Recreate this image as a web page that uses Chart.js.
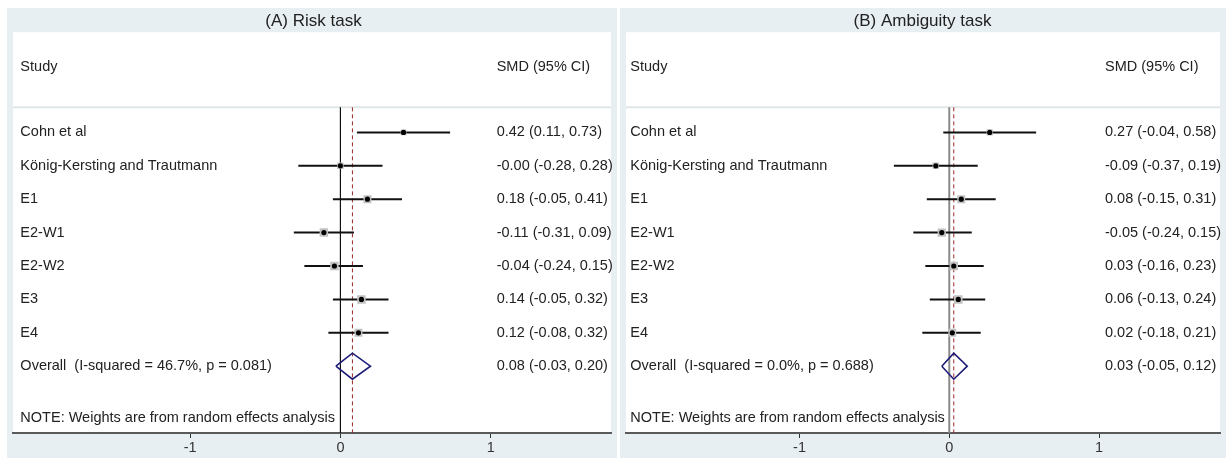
<!DOCTYPE html>
<html>
<head>
<meta charset="utf-8">
<title>Forest plots</title>
<script src="https://cdn.jsdelivr.net/npm/chart.js@4.4.1/dist/chart.umd.min.js"></script>
<style>
  body { margin: 0; background: #ffffff; width: 1226px; height: 458px; overflow: hidden; }
  .panel { position: absolute; top: 8px; height: 450px; background: #e8eff2; }
  #panelA { left: 7px; width: 610px; }
  #panelB { left: 620px; width: 606px; }
</style>
</head>
<body>
<div class="panel" id="panelA"><canvas id="chartA" width="610" height="450"></canvas></div>
<div class="panel" id="panelB"><canvas id="chartB" width="606" height="450"></canvas></div>
<script>
const studies = ["Cohn et al", "König-Kersting and Trautmann", "E1", "E2-W1", "E2-W2", "E3", "E4"];

// (A) risk task
const riskSmd = [0.42, -0.00, 0.18, -0.11, -0.04, 0.14, 0.12];
const riskLower = [0.11, -0.28, -0.05, -0.31, -0.24, -0.05, -0.08];
const riskUpper = [0.73, 0.28, 0.41, 0.09, 0.15, 0.32, 0.32];
const riskWeight = [8, 10, 15, 17, 17, 17, 15];
const riskOverall = [0.08, -0.03, 0.20];
const riskHet = "I-squared = 46.7%, p = 0.081";

// (B) ambiguity task
const ambSmd = [0.27, -0.09, 0.08, -0.05, 0.03, 0.06, 0.02];
const ambLower = [-0.04, -0.37, -0.15, -0.24, -0.16, -0.13, -0.18];
const ambUpper = [0.58, 0.19, 0.31, 0.15, 0.23, 0.24, 0.21];
const ambWeight = [9, 10, 15, 16, 17, 17, 15];
const ambOverall = [0.03, -0.05, 0.12];
const ambHet = "I-squared = 0.0%, p = 0.688";

const xTicks = [-1, 0, 1];

const FONT = 'Arial, "Liberation Sans", sans-serif';
const ROW_OVERALL = studies.length;

function fmt(v) {
  return (Object.is(v, -0) ? "-" : "") + v.toFixed(2);
}
function ciText(est, lo, hi) {
  return fmt(est) + " (" + fmt(lo) + ", " + fmt(hi) + ")";
}

// white plotting region + the text columns
const forestText = {
  id: "forestText",
  beforeDraw(chart) {
    const a = chart.chartArea;
    const ctx = chart.ctx;
    ctx.save();
    ctx.fillStyle = "#ffffff";
    ctx.fillRect(a.left, a.top, a.right - a.left, a.bottom - a.top);
    ctx.restore();
  },
  afterDraw(chart, args, opts) {
    const ctx = chart.ctx;
    const x = chart.scales.x, y = chart.scales.y;
    const p = opts.panel;
    if (!p) return;
    const xl = x.getPixelForValue(-2.13);
    const xr = x.getPixelForValue(1.04);
    ctx.save();
    ctx.font = "14.5px " + FONT;
    ctx.fillStyle = "#222222";
    ctx.textBaseline = "middle";
    ctx.textAlign = "left";
    ctx.fillText("Study", xl, y.getPixelForValue(-1.95));
    ctx.fillText("SMD (95% CI)", xr, y.getPixelForValue(-1.95));
    studies.forEach((s, i) => {
      ctx.fillText(s, xl, y.getPixelForValue(i));
      ctx.fillText(ciText(p.smd[i], p.lower[i], p.upper[i]), xr, y.getPixelForValue(i));
    });
    ctx.fillText("Overall  (" + p.het + ")", xl, y.getPixelForValue(ROW_OVERALL));
    ctx.fillText(ciText(p.overall[0], p.overall[1], p.overall[2]), xr, y.getPixelForValue(ROW_OVERALL));
    ctx.fillText("NOTE: Weights are from random effects analysis", xl, y.getPixelForValue(8.55));
    ctx.restore();
  }
};

function makeForest(canvasId, title, p, xMin, xMax, padL, padR, zeroColor, zeroWidth) {
  const dots = p.smd.map((v, i) => ({ x: v, y: i }));
  const boxSizes = p.weight.map(w => 1.45 * Math.sqrt(w));

  const ciSets = p.smd.map((v, i) => ({
    data: [{ x: p.lower[i], y: i }, { x: p.upper[i], y: i }],
    showLine: true,
    borderColor: "#111111",
    borderWidth: 2,
    pointRadius: 0
  }));

  const o = p.overall;
  const diamond = [
    { x: o[1], y: ROW_OVERALL },
    { x: o[0], y: ROW_OVERALL - 0.39 },
    { x: o[2], y: ROW_OVERALL },
    { x: o[0], y: ROW_OVERALL + 0.39 },
    { x: o[1], y: ROW_OVERALL }
  ];

  new Chart(document.getElementById(canvasId), {
    type: "scatter",
    data: {
      datasets: [
        {
          data: dots,
          pointStyle: "circle",
          pointRadius: 2.6,
          backgroundColor: "#000000",
          borderWidth: 0
        },
        {
          data: dots,
          pointStyle: "rect",
          pointRadius: boxSizes,
          backgroundColor: "#c2c2c2",
          borderWidth: 0
        },
        ...ciSets,
        {
          data: diamond,
          showLine: true,
          borderColor: "#1c1c78",
          borderWidth: 1.6,
          pointRadius: 0,
          tension: 0
        },
        {
          data: [{ x: o[0], y: -0.75 }, { x: o[0], y: 9 }],
          showLine: true,
          borderColor: "#9a2a2a",
          borderWidth: 1,
          borderDash: [4, 3],
          pointRadius: 0
        },
        {
          data: [{ x: 0, y: -0.75 }, { x: 0, y: 9 }],
          showLine: true,
          borderColor: zeroColor,
          borderWidth: zeroWidth,
          pointRadius: 0
        },
        {
          data: [{ x: xMin, y: -0.75 }, { x: xMax, y: -0.75 }],
          showLine: true,
          borderColor: "#e1e6e8",
          borderWidth: 2,
          pointRadius: 0
        }
      ]
    },
    options: {
      responsive: false,
      animation: false,
      layout: { padding: { left: padL, right: padR, top: 0, bottom: 0 } },
      plugins: {
        legend: { display: false },
        tooltip: { enabled: false },
        title: {
          display: true,
          text: title,
          color: "#222222",
          font: { family: FONT, size: 17, weight: "normal", lineHeight: 1.1 },
          padding: { top: 4, bottom: 1.5 }
        },
        forestText: { panel: p }
      },
      scales: {
        x: {
          type: "linear",
          min: xMin,
          max: xMax,
          afterBuildTicks: (s) => { s.ticks = xTicks.map(v => ({ value: v })); },
          afterFit: (s) => { s.height = 25; },
          border: { display: true, color: "#5a5a5a", width: 2 },
          grid: { drawOnChartArea: false, drawTicks: true, tickLength: 5, tickColor: "#333333", tickWidth: 1 },
          ticks: { color: "#333333", font: { family: FONT, size: 14.5 }, padding: 1 }
        },
        y: {
          type: "linear",
          min: -3,
          max: 9,
          reverse: true,
          display: false
        }
      }
    },
    plugins: [forestText]
  });
}

makeForest("chartA", "(A) Risk task",
  { smd: riskSmd, lower: riskLower, upper: riskUpper, weight: riskWeight, overall: riskOverall, het: riskHet },
  -2.179, 1.801, 6, 3, "#111111", 1.2);

makeForest("chartB", "(B) Ambiguity task",
  { smd: ambSmd, lower: ambLower, upper: ambUpper, weight: ambWeight, overall: ambOverall, het: ambHet },
  -2.159, 1.808, 3, 4, "#8a8a8a", 2);
</script>
</body>
</html>
